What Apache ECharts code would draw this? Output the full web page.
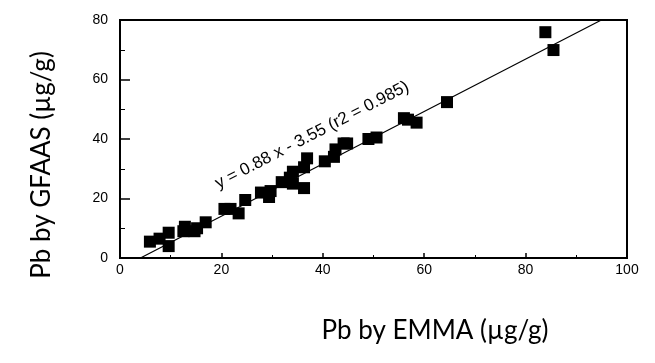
<!DOCTYPE html>
<html>
<head>
<meta charset="utf-8">
<script src="https://cdn.jsdelivr.net/npm/echarts@6/dist/echarts.min.js"></script>
<style>
  html, body { margin: 0; padding: 0; background: #fff; }
  #chart { width: 655px; height: 363px; }
</style>
</head>
<body>
<div id="chart"></div>
<script>
// Pb by EMMA (x) vs Pb by GFAAS (y), µg/g
const emma  = [5.9, 7.8, 9.6, 9.6, 12.5, 12.8, 14.7, 15.2, 16.9, 20.6, 21.8, 23.4, 24.7, 27.8, 29.4, 29.7,
               31.9, 33.5, 34.1, 34.1, 36.3, 36.3, 36.9, 40.4, 42.2, 42.5, 44.1, 44.8, 49.0, 50.6, 56.0,
               56.8, 58.5, 64.5, 83.9, 85.5];
const gfaas = [5.5, 6.5, 8.5, 4.0, 9.0, 10.5, 9.0, 10.0, 12.0, 16.5, 16.5, 15.0, 19.5, 22.0, 20.5, 22.5,
               25.5, 27.0, 25.0, 29.0, 23.5, 30.5, 33.5, 32.5, 34.0, 36.5, 38.5, 38.5, 40.0, 40.5, 47.0,
               46.5, 45.5, 52.4, 75.9, 69.9];
const slope = 0.88;
const intercept = -3.55;
const r2 = 0.985;
const xTicks = [0, 20, 40, 60, 80, 100];
const yTicks = [0, 20, 40, 60, 80];

const points = emma.map((x, i) => [x, gfaas[i]]);
const yMax = yTicks[yTicks.length - 1];
const fitLine = [[-intercept / slope, 0], [(yMax - intercept) / slope, yMax]];

const chart = echarts.init(document.getElementById("chart"));
const tickFont = {color: "#000", fontFamily: "Liberation Sans", fontSize: 14};

const option = {
  animation: false,
  grid: {
    left: 120, right: 28, top: 20, bottom: 105,
    show: true, borderColor: "#000", borderWidth: 2
  },
  xAxis: {
    type: "value",
    min: xTicks[0], max: xTicks[xTicks.length - 1], interval: 20,
    axisLine: {lineStyle: {color: "#000", width: 2}},
    axisTick: {inside: true, length: 5, lineStyle: {color: "#000", width: 1.5}},
    minorTick: {show: true, splitNumber: 2, length: 3, lineStyle: {color: "#000", width: 1}},
    axisLabel: Object.assign({margin: 5}, tickFont),
    splitLine: {show: false}
  },
  yAxis: {
    type: "value",
    min: yTicks[0], max: yMax, interval: 20,
    axisLine: {lineStyle: {color: "#000", width: 2}},
    axisTick: {inside: true, length: 10, lineStyle: {color: "#000", width: 1.5}},
    minorTick: {show: true, splitNumber: 2, length: 5, lineStyle: {color: "#000", width: 1}},
    axisLabel: Object.assign({margin: 12}, tickFont),
    splitLine: {show: false}
  },
  series: [
    {
      type: "line",
      data: fitLine,
      symbol: "none",
      lineStyle: {color: "#000", width: 1.2},
      z: 1
    },
    {
      type: "scatter",
      data: points,
      symbol: "rect",
      symbolSize: 12,
      itemStyle: {color: "#000", opacity: 1},
      z: 2
    }
  ]
};
chart.setOption(option);

// annotation along the fit line, and axis titles
const p0 = chart.convertToPixel({gridIndex: 0}, fitLine[0]);
const p1 = chart.convertToPixel({gridIndex: 0}, fitLine[1]);
const angle = Math.atan2(p0[1] - p1[1], p1[0] - p0[0]);
const labelPos = chart.convertToPixel({gridIndex: 0}, [37.9, 41.3]);

chart.setOption({
  graphic: [
    {
      type: "text",
      x: labelPos[0], y: labelPos[1],
      rotation: angle,
      style: {
        text: "y = " + slope + " x - " + Math.abs(intercept) + " (r2 = " + r2 + ")",
        fontFamily: "Liberation Sans", fontSize: 17, fill: "#000",
        align: "center", verticalAlign: "middle"
      }
    },
    {
      type: "text",
      x: 435, y: 331,
      style: {
        text: "Pb by EMMA (µg/g)",
        fontFamily: "Lato", fontSize: 26, fill: "#000",
        align: "center", verticalAlign: "middle"
      }
    },
    {
      type: "text",
      x: 42, y: 165,
      rotation: Math.PI / 2,
      style: {
        text: "Pb by GFAAS (µg/g)",
        fontFamily: "Lato", fontSize: 26, fill: "#000",
        align: "center", verticalAlign: "middle"
      }
    }
  ]
});
</script>
</body>
</html>
